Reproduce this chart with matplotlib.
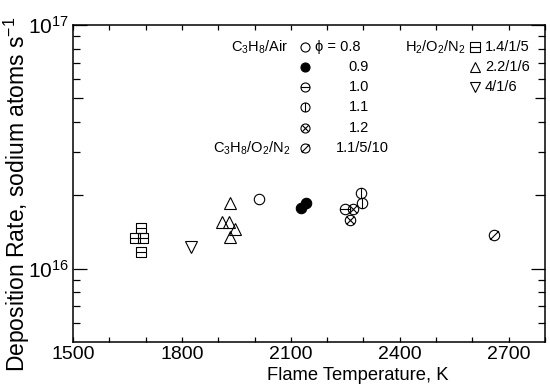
import numpy as np
import matplotlib
matplotlib.use('Agg')
import matplotlib.pyplot as plt
from matplotlib.path import Path
from matplotlib.ticker import FixedLocator, NullFormatter, MultipleLocator

plt.rcParams['font.family'] = ['Liberation Sans', 'DejaVu Sans']
plt.rcParams['mathtext.fontset'] = 'custom'
plt.rcParams['mathtext.rm'] = 'Liberation Sans'
plt.rcParams['mathtext.it'] = 'Liberation Sans:italic'
plt.rcParams['mathtext.bf'] = 'Liberation Sans:bold'
plt.rcParams['mathtext.default'] = 'regular'

# flame temperature (K) vs Na deposition rate (atoms/s)
t_phi08 = [2011]
r_phi08 = [1.93e16]
t_phi09 = [2128, 2142]
r_phi09 = [1.77e16, 1.86e16]
t_phi10 = [2250]
r_phi10 = [1.75e16]
t_phi11 = [2294, 2296]
r_phi11 = [2.05e16, 1.86e16]
t_phi12 = [2271, 2264]
r_phi12 = [1.75e16, 1.58e16]
t_c3o2n2 = [2659]
r_c3o2n2 = [1.38e16]
t_h2_145 = [1688, 1671, 1693, 1688]
r_h2_145 = [1.47e16, 1.34e16, 1.33e16, 1.17e16]
t_h2_2216 = [1933, 1911, 1930, 1947, 1933]
r_h2_2216 = [1.86e16, 1.56e16, 1.56e16, 1.46e16, 1.35e16]
t_h2_416 = [1826]
r_h2_416 = [1.23e16]

xticks = [1500, 1800, 2100, 2400, 2700]
yticks = [1e16, 1e17]
ytick_labels = [r'$10^{16}$', r'$10^{17}$']

# marker shapes: circle / square with bars through them
MV, LN = Path.MOVETO, Path.LINETO


def with_lines(base, segs):
    parts = [base] + [Path(s, [MV, LN]) for s in segs]
    return Path.make_compound_path(*parts)


c = 0.7071
circ = Path.unit_circle()
square = Path([(-1, -1), (1, -1), (1, 1), (-1, 1), (-1, -1)],
              [MV, LN, LN, LN, Path.CLOSEPOLY])
m_hbar = with_lines(circ, [[(-1, 0), (1, 0)]])
m_vbar = with_lines(circ, [[(0, -1), (0, 1)]])
m_cross = with_lines(circ, [[(-c, -c), (c, c)], [(-c, c), (c, -c)]])
m_slash = with_lines(circ, [[(-0.85, -0.85), (0.85, 0.85)]])
m_sqbar = with_lines(square, [[(-1, 0), (1, 0)]])

series = [
    (t_phi08, r_phi08, 'o', 'none', 7.5),
    (t_phi09, r_phi09, 'o', 'k', 7.5),
    (t_phi10, r_phi10, m_hbar, 'none', 7.5),
    (t_phi11, r_phi11, m_vbar, 'none', 7.5),
    (t_phi12, r_phi12, m_cross, 'none', 7.5),
    (t_c3o2n2, r_c3o2n2, m_slash, 'none', 7.5),
    (t_h2_145, r_h2_145, m_sqbar, 'none', 7.5),
    (t_h2_2216, r_h2_2216, '^', 'none', 8.5),
    (t_h2_416, r_h2_416, 'v', 'none', 8.5),
]

fig = plt.figure(figsize=(5.5, 3.91), dpi=100)
ax = fig.add_subplot(111)
fig.subplots_adjust(left=0.1327, right=0.991, bottom=0.1253, top=0.936)

for t, r, m, fc, ms in series:
    ax.plot(t, r, ls='none', marker=m, mfc=fc, mec='k', mew=0.8, ms=ms)

ax.set_yscale('log')
ax.set_xlim(1500, 2800)
ax.set_ylim(5e15, 1e17)
ax.set_xticks(xticks)
ax.xaxis.set_minor_locator(MultipleLocator(100))
ax.set_yticks(yticks)
ax.set_yticklabels(ytick_labels)
minor_locs = [k * 10.0 ** e for e in (15, 16) for k in range(2, 10)]
minor_locs = [v for v in minor_locs if 5e15 < v < 1e17]
ax.yaxis.set_minor_locator(FixedLocator(minor_locs))
ax.yaxis.set_minor_formatter(NullFormatter())

ax.tick_params(which='both', direction='in', top=True, right=True, width=0.9)
ax.tick_params(axis='x', which='both', length=3.6, labelsize=14, pad=3)
ax.tick_params(axis='y', which='major', length=10, labelsize=15, pad=3)
ax.tick_params(axis='y', which='minor', length=5)

# slightly longer ticks at 2 and 5 of each decade
for v, tk in zip(minor_locs, ax.yaxis.get_minor_ticks(len(minor_locs))):
    if round(v / 10 ** np.floor(np.log10(v))) in (2, 5):
        tk.tick1line.set_markersize(7)
        tk.tick2line.set_markersize(7)

for s in ax.spines.values():
    s.set_linewidth(1.1)

ax.set_xlabel('Flame Temperature, K', fontsize=13.2)
ax.xaxis.set_label_coords(0.604, -0.08)
ax.set_ylabel('Deposition Rate, sodium atoms s$^{-1}$', fontsize=16.5)
ax.yaxis.set_label_coords(-0.087, 0.467)

# key, written inside the axes
rows = [0.931 - 0.0637 * i for i in range(6)]
fs = 10.5
kw = dict(transform=ax.transAxes, clip_on=False, ls='none', mec='k', mew=0.8)
tk = dict(transform=ax.transAxes, fontsize=fs, va='center')

ax.text(0.4555, rows[0], 'C$_3$H$_8$/Air', ha='right', **tk)
ax.text(0.46, rows[5], 'C$_3$H$_8$/O$_2$/N$_2$', ha='right', **tk)
key_marks = ['o', 'o', m_hbar, m_vbar, m_cross, m_slash]
key_fill = ['none', 'k', 'none', 'none', 'none', 'none']
for i, (m, fc) in enumerate(zip(key_marks, key_fill)):
    ax.plot([0.491], [rows[i]], marker=m, mfc=fc, ms=6.5, **kw)
ax.text(0.513, rows[0], '\u03d5 = 0.8', ha='left', **tk)
for i, lab in enumerate(['0.9', '1.0', '1.1', '1.2'], start=1):
    ax.text(0.627, rows[i], lab, ha='right', **tk)
ax.text(0.557, rows[5], '1.1/5/10', ha='left', **tk)

ax.text(0.832, rows[0], 'H$_2$/O$_2$/N$_2$', ha='right', **tk)
h2_marks = [m_sqbar, '^', 'v']
h2_labels = ['1.4/1/5', '2.2/1/6', '4/1/6']
for i, (m, lab) in enumerate(zip(h2_marks, h2_labels)):
    ax.plot([0.852], [rows[i]], marker=m, mfc='none', ms=7, **kw)
    ax.text(0.873, rows[i], lab, ha='left', **tk)

fig.savefig('out.png', dpi=100)
